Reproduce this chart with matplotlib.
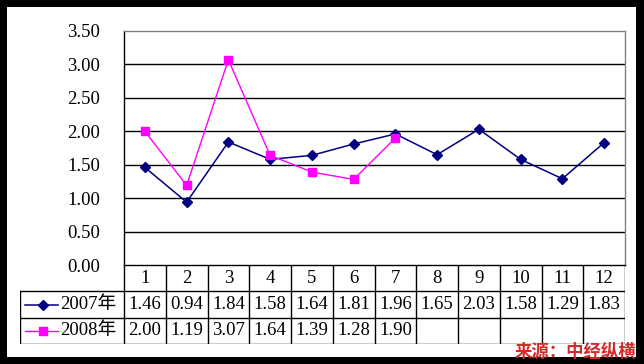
import numpy as np
import matplotlib.pyplot as plt
from matplotlib.patches import Rectangle

plt.rcParams['font.family'] = ['Liberation Serif', 'Noto Sans CJK SC']

months = ['1', '2', '3', '4', '5', '6', '7', '8', '9', '10', '11', '12']
y2007 = [1.46, 0.94, 1.84, 1.58, 1.64, 1.81, 1.96, 1.65, 2.03, 1.58, 1.29, 1.83]
y2008 = [2.00, 1.19, 3.07, 1.64, 1.39, 1.28, 1.90]
series_names = ['2007年', '2008年']
yticks = [0.0, 0.5, 1.0, 1.5, 2.0, 2.5, 3.0, 3.5]

W, H = 644, 364
fs = 13.5
fig = plt.figure(figsize=(W / 100, H / 100), dpi=100, facecolor='black')
fig.patches.append(Rectangle((7 / W, 7 / H), 629 / W, 350 / H, transform=fig.transFigure,
                             facecolor='white', edgecolor='none', zorder=-10))

# plot area
ax = fig.add_axes([124 / W, (H - 265) / H, (625 - 124) / W, (265 - 31) / H])
ax.set_xlim(0, len(months))
ax.set_ylim(0, 3.5)
ax.set_yticks(yticks)
ax.set_yticklabels([f"{v:.2f}" for v in yticks], fontsize=fs)
ax.tick_params(axis='y', length=0, pad=17)
ax.set_xticks([])
for v in yticks[1:-1]:
    ax.axhline(v, color='black', lw=1.0, zorder=1)
ax.spines['left'].set_color('black')
ax.spines['bottom'].set_color('black')
ax.spines['top'].set_color('#808080')
ax.spines['right'].set_color('#808080')
for s in ax.spines.values():
    s.set_linewidth(1.0)
ax.patch.set_alpha(0)

x07 = np.arange(len(y2007)) + 0.5
x08 = np.arange(len(y2008)) + 0.5
ax.plot(x07, y2007, color='#000080', lw=1.1, marker='D', ms=5.5, zorder=3)
ax.plot(x08, y2008, color='#ff00ff', lw=1.0, marker='s', ms=5.5, zorder=3)

# data table
lw_col = (124 - 20) / ((625 - 124) / len(months))
axt = fig.add_axes([20 / W, (H - 344) / H, (625 - 20) / W, (344 - 265) / H])
axt.set_xlim(-lw_col, len(months))
axt.set_ylim(0, 3)
axt.axis('off')
lc = 'black'
for yy in [0, 1, 2]:
    axt.plot([-lw_col, len(months)], [yy, yy], color=lc, lw=1.0)
axt.plot([-lw_col, -lw_col], [0, 2], color=lc, lw=1.0)
for i in range(len(months) + 1):
    axt.plot([i, i], [0, 3], color=lc, lw=1.0)
for i, m in enumerate(months):
    axt.text(i + 0.5, 2.5, m, ha='center', va='center', fontsize=fs)
for i, v in enumerate(y2007):
    axt.text(i + 0.5, 1.5, f"{v:.2f}", ha='center', va='center', fontsize=fs)
for i, v in enumerate(y2008):
    axt.text(i + 0.5, 0.5, f"{v:.2f}", ha='center', va='center', fontsize=fs)

# legend keys inside the table
kx = [-lw_col + 0.12, -lw_col + 0.55, -lw_col + 0.91]
axt.plot(kx, [1.5] * 3, color='#000080', lw=1.1, marker='D', ms=5.5, markevery=[1])
axt.plot(kx, [0.5] * 3, color='#ff00ff', lw=1.0, marker='s', ms=5.5, markevery=[1])
axt.text(kx[2] + 0.05, 1.5, series_names[0], ha='left', va='center', fontsize=fs)
axt.text(kx[2] + 0.05, 0.5, series_names[1], ha='left', va='center', fontsize=fs)

fig.text(636 / W, (H - 352) / H, '来源：中经纵横', ha='right', va='center', fontsize=12.5,
         color='#d42a2a', fontweight='bold', family=['Noto Sans CJK SC'], style='italic')

fig.savefig('out.png', dpi=100, facecolor='black')
